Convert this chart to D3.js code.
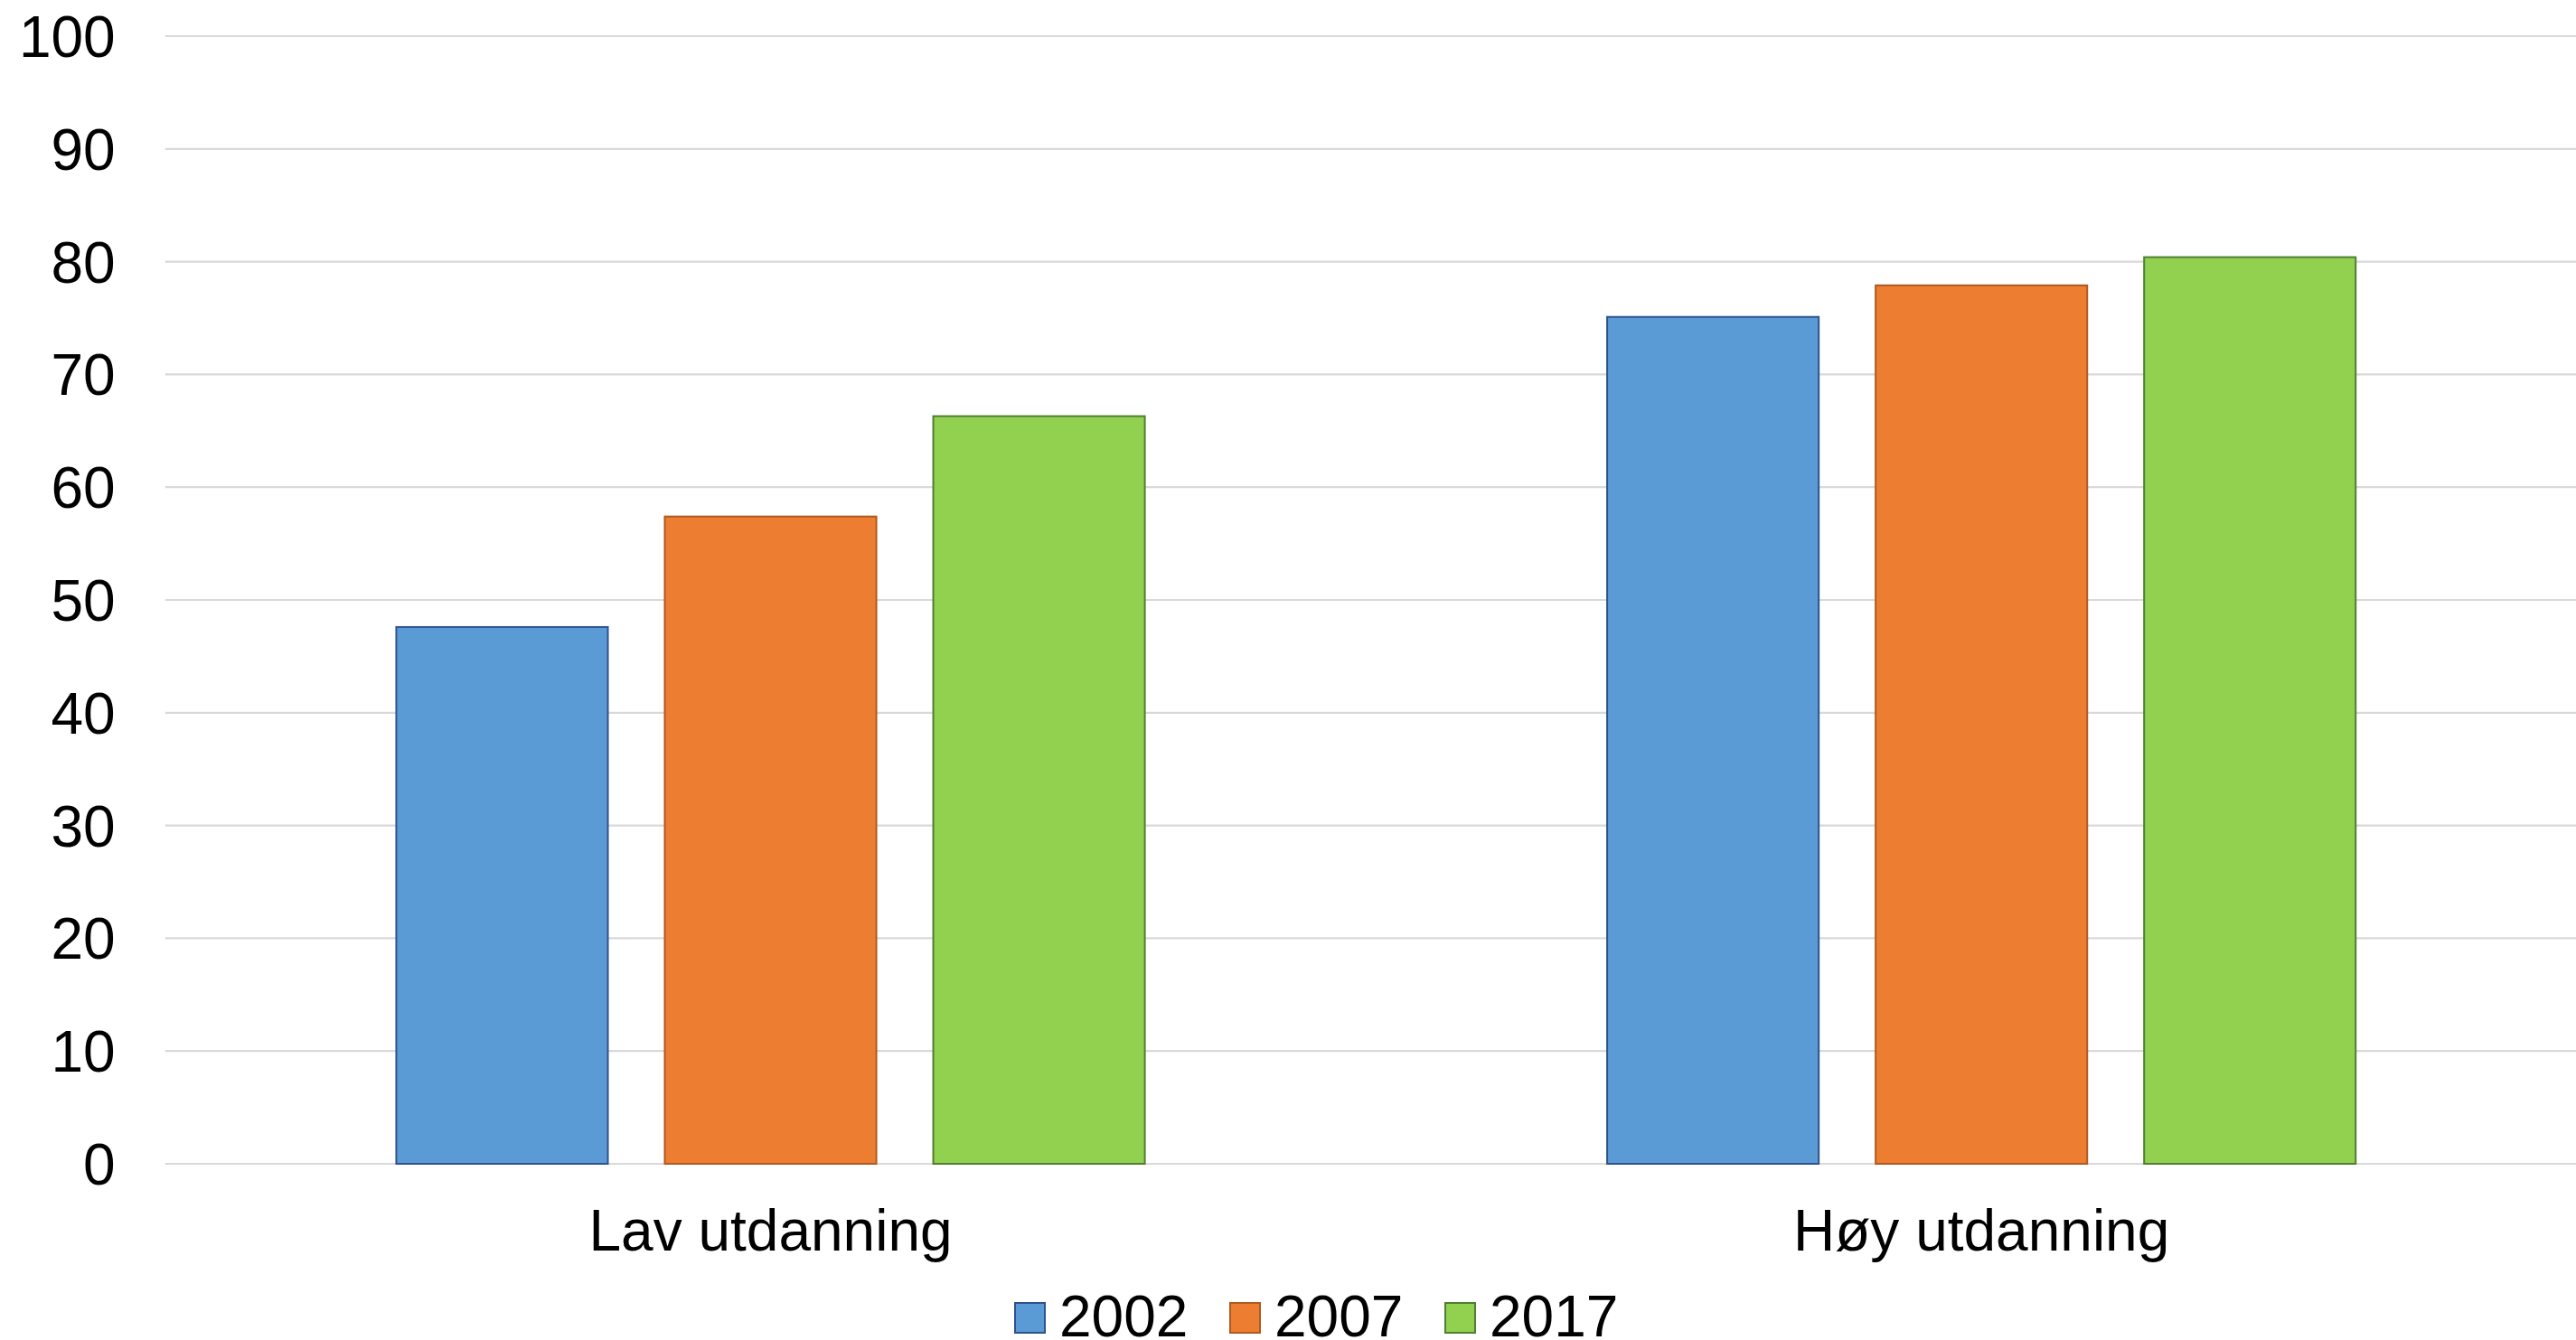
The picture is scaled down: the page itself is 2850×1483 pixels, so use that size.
<!DOCTYPE html>
<html>
<head>
<meta charset="utf-8">
<script src="https://cdn.jsdelivr.net/npm/d3@7"></script>
<style>
  html, body { margin: 0; padding: 0; background: #ffffff; }
  svg { display: block; }
  text { font-family: "Liberation Sans", Arial, sans-serif; fill: #000; }
</style>
</head>
<body>
<svg id="chart" width="2850" height="1483"></svg>
<script>
// ---- data ----
const categories = ["Lav utdanning", "Høy utdanning"];
const seriesNames = ["2002", "2007", "2017"];
const values2002 = [47.6, 75.1];
const values2007 = [57.4, 77.9];
const values2017 = [66.3, 80.4];
const yTicks = [0, 10, 20, 30, 40, 50, 60, 70, 80, 90, 100];

// ---- styles ----
const fills = ["#5B9BD5", "#ED7D31", "#92D050"];
const strokes = ["#2F528F", "#AE5A21", "#507E32"];

const seriesValues = [values2002, values2007, values2017];
const data = categories.map((c, i) => ({
  category: c,
  values: seriesNames.map((s, j) => ({ series: s, value: seriesValues[j][i], idx: j }))
}));

const svg = d3.select("#chart");

const plotLeft = 182.7, plotRight = 2862, yTop = 40, yBottom = 1288;

const x0 = d3.scaleBand().domain(categories).range([plotLeft, plotRight]).paddingInner(0).paddingOuter(0);
const x1 = d3.scaleBand().domain(seriesNames).range([0, x0.bandwidth()]).paddingInner(0.212).paddingOuter(0.861);
const y = d3.scaleLinear().domain([0, 100]).range([yBottom, yTop]);

// gridlines
svg.append("g")
  .selectAll("line")
  .data(yTicks)
  .join("line")
  .attr("x1", plotLeft)
  .attr("x2", 2850)
  .attr("y1", d => y(d))
  .attr("y2", d => y(d))
  .attr("stroke", "#D9D9D9")
  .attr("stroke-width", 2.2);

// y tick labels via axis
const yAxis = d3.axisLeft(y).tickValues(yTicks).tickSize(0).tickPadding(0);
const yg = svg.append("g").attr("transform", `translate(${plotLeft - 55},0)`).call(yAxis);
yg.select(".domain").remove();
yg.selectAll("text")
  .attr("font-size", 64)
  .attr("font-family", "'Liberation Sans', Arial, sans-serif")
  .attr("fill", "#000")
  .attr("dy", "0.35em");

// bars
const groups = svg.append("g")
  .selectAll("g")
  .data(data)
  .join("g")
  .attr("transform", d => `translate(${x0(d.category)},0)`);

groups.selectAll("rect")
  .data(d => d.values)
  .join("rect")
  .attr("x", d => x1(d.series))
  .attr("width", x1.bandwidth())
  .attr("y", d => y(d.value))
  .attr("height", d => y(0) - y(d.value))
  .attr("fill", d => fills[d.idx])
  .attr("stroke", d => strokes[d.idx])
  .attr("stroke-width", 2);

// x category labels
const xAxis = d3.axisBottom(x0).tickSize(0).tickPadding(0);
const xg = svg.append("g").attr("transform", `translate(0,${yBottom})`).call(xAxis);
xg.select(".domain").remove();
xg.selectAll("text")
  .attr("font-size", 64)
  .attr("font-family", "'Liberation Sans', Arial, sans-serif")
  .attr("fill", "#000")
  .attr("y", 96)
  .attr("dy", 0);

// legend
const legendX = d3.scaleBand().domain(seriesNames).range([1123, 1123 + 238 * 3]);
const legend = svg.append("g")
  .selectAll("g")
  .data(seriesNames)
  .join("g")
  .attr("transform", d => `translate(${legendX(d)},0)`);

legend.append("rect")
  .attr("x", 0)
  .attr("y", 1442)
  .attr("width", 33)
  .attr("height", 33)
  .attr("fill", (d, i) => fills[i])
  .attr("stroke", (d, i) => strokes[i])
  .attr("stroke-width", 2);

legend.append("text")
  .attr("x", 49)
  .attr("y", 1479)
  .attr("font-size", 64)
  .text(d => d);
</script>
</body>
</html>
